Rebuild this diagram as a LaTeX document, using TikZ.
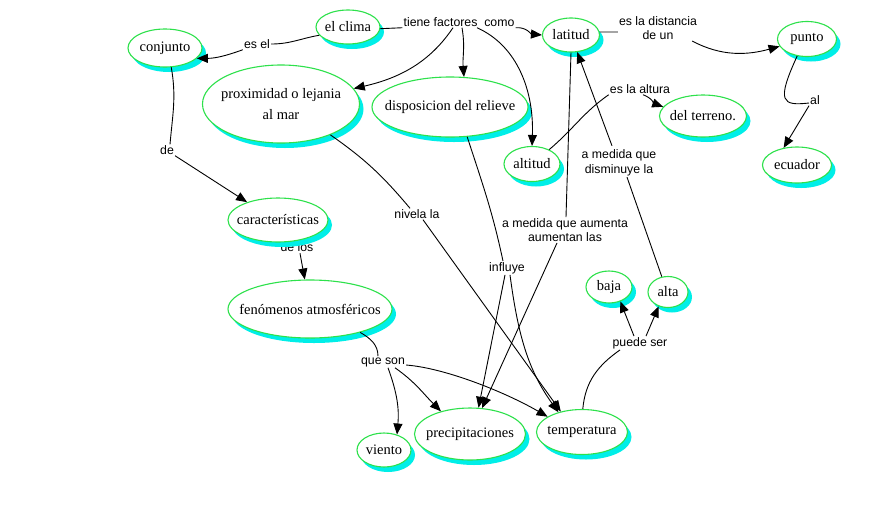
\documentclass[tikz,border=0pt]{standalone}
\usepackage{fontspec}
\setmainfont{Liberation Serif}
\newfontfamily\labfont{Liberation Sans}
\usetikzlibrary{shapes.geometric,arrows.meta,shadows}
\definecolor{cgreen}{RGB}{45,225,75}
\definecolor{ccyan}{RGB}{0,238,232}
\newcommand\cmnode[6]{\node[concept, minimum width=#4pt, minimum height=#5pt, label={[ctext]center:{#6}}] (#1) at (#2,-#3) {};}
\begin{document}
\begin{tikzpicture}[x=1pt,y=1pt,
  concept/.style={ellipse, draw=cgreen, line width=1.1pt, fill=white, inner sep=0pt,
     drop shadow={shadow xshift=4pt, shadow yshift=-5pt, fill=ccyan, opacity=1}},
  ctext/.style={font=\fontsize{14.5}{21}\selectfont, align=center, inner sep=0pt},
  lnk/.style={font=\labfont\fontsize{12.3}{14.5}\selectfont, align=center, inner sep=1pt},
  conn/.style={line width=0.9pt, black},
  arr/.style={conn, -{Triangle[length=11pt,width=9pt]}}
]
\useasboundingbox[fill=white] (0,0) rectangle (878,-507);

% linking phrases
\node[lnk] (esel) at (257,-44) {es el};
\node[lnk] (tiene) at (459,-22) {tiene factores\ \ como};
\node[lnk] (dist) at (658,-28) {es la distancia\\de un};
\node[lnk] (altura) at (640,-89) {es la altura};
\node[lnk] (al) at (815,-100) {al};
\node[lnk] (dism) at (619,-163) {a medida que\\disminuye la};
\node[lnk] (de) at (167,-150) {de};
\node[lnk] (nivela) at (417,-214) {nivela la};
\node[lnk] (aum) at (565,-230) {a medida que aumenta\\aumentan las};
\node[lnk] (delos) at (297,-247.5) {de los};
\node[lnk] (influye) at (507,-268) {influye};
\node[lnk] (puede) at (640,-343) {puede ser};
\node[lnk] (queson) at (383,-362) {que son};

% concepts
\cmnode{clima}{348}{27}{64}{34}{el clima}
\cmnode{conjunto}{165}{48}{74}{38}{conjunto}
\cmnode{prox}{281}{104}{157}{78}{proximidad o lejania\\al mar}
\cmnode{disp}{450}{107}{156}{60}{disposicion del relieve}
\cmnode{latitud}{571}{35}{57}{34}{latitud}
\cmnode{punto}{807}{39}{59}{35}{punto}
\cmnode{terreno}{703}{116}{87}{42}{del terreno.}
\cmnode{altitud}{532}{164}{56}{35}{altitud}
\cmnode{ecuador}{797}{165}{69}{36}{ecuador}
\cmnode{caract}{278}{220}{100}{44}{características}
\cmnode{fenom}{310}{309}{164}{58}{fenómenos atmosféricos}
\cmnode{baja}{609}{287}{46}{32}{baja}
\cmnode{alta}{668}{292}{40}{31}{alta}
\cmnode{viento}{384}{450}{54}{34}{viento}
\cmnode{precip}{470}{434}{111}{52}{precipitaciones}
\cmnode{temp}{582}{432}{91}{45}{temperatura}

% connectors
\draw[conn] (clima.196) to[out=190,in=0] (esel.east);
\draw[arr] (esel.south west) to[out=200,in=0] (conjunto.-18);
\draw[conn] (clima.-3) -- (tiene.south west);
\draw[arr] ([xshift=-6pt]tiene.south) .. controls (430,-62) and (400,-78) .. (prox.12);
\draw[arr] ([xshift=3pt]tiene.south) to[out=-80,in=95] (disp.65);
\draw[arr] ([xshift=18pt]tiene.south) .. controls (518,-46) and (534,-92) .. (altitud.north);
\draw[arr] (tiene.south east) to[out=5,in=175] (latitud.west);
\draw[conn] (latitud.6) -- ([yshift=-4pt]dist.west);
\draw[arr] ([xshift=-6pt]dist.south east) .. controls (722,-57) and (748,-55) .. (punto.195);
\draw[conn] (punto.-120) .. controls (776,-102) and (782,-106) .. ([yshift=-3pt]al.west);
\draw[arr] (al.south west) -- (ecuador.128);
\draw[conn] (altitud.40) to[out=40,in=215] (altura.south west);
\draw[arr] ([xshift=3pt]altura.south) to[out=-20,in=160] (terreno.167);
\draw[conn] (latitud.south) -- ([xshift=1pt]aum.north);
\draw[arr] ([xshift=-8pt]aum.south) -- (precip.65);
\draw[conn] (alta.112) -- ([xshift=8pt]dism.south);
\draw[arr] ([xshift=-7pt,yshift=3pt]dism.north) -- (latitud.-70);
\draw[conn] (prox.-32) to[out=-35,in=130] ([xshift=-7pt]nivela.north);
\draw[arr] ([xshift=6pt]nivela.south) -- (temp.136);
\draw[conn] (disp.-60) to[out=-72,in=102] ([xshift=-4pt]influye.north);
\draw[arr] ([xshift=-2pt]influye.south) -- (precip.72);
\draw[arr] ([xshift=3pt]influye.south) .. controls (518,-335) and (528,-370) .. (temp.140);
\draw[arr] ([xshift=3pt]delos.south) -- (fenom.100);
\draw[conn] (conjunto.-72) to[out=-80,in=85] ([xshift=3pt]de.north);
\draw[arr] (de.south east) -- (caract.150);
\draw[conn] (fenom.-25) to[out=-30,in=90] ([xshift=-5pt]queson.north);
\draw[arr] ([xshift=5pt]queson.south) to[out=-70,in=85] (viento.50);
\draw[arr] ([xshift=12pt]queson.south) to[out=-35,in=135] (precip.142);
\draw[arr] ([yshift=-3pt]queson.east) .. controls (445,-368) and (505,-392) .. (temp.156);
\draw[conn] (temp.88) to[out=85,in=215] ([xshift=-20pt]puede.south);
\draw[arr] ([xshift=-6pt]puede.north) -- (baja.-52);
\draw[arr] ([xshift=6pt]puede.north) -- (alta.-123);
\end{tikzpicture}
\end{document}
